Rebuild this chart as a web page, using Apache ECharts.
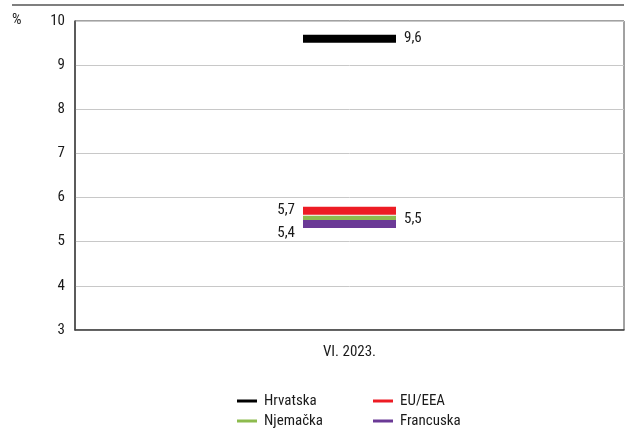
<!DOCTYPE html>
<html>
<head>
<meta charset="utf-8">
<script src="https://cdn.jsdelivr.net/npm/echarts@6/dist/echarts.min.js"></script>
<style>
  html, body { margin: 0; padding: 0; background: #fff; }
  #chart { width: 628px; height: 428px; }
</style>
</head>
<body>
<div id="chart"></div>
<script>
// Stopa nezaposlenosti, VI. 2023.
const categories = ['VI. 2023.'];
const seriesNames = ['Hrvatska', 'EU/EEA', 'Njemačka', 'Francuska'];
const hrvatska = [9.6];
const euEea = [5.7];
const njemacka = [5.5];
const francuska = [5.4];
const yTicks = [3, 4, 5, 6, 7, 8, 9, 10];

const FONT = '"Liberation Sans Narrow", "Roboto Condensed", "Liberation Sans", sans-serif';
const colors = ['#000000', '#ed1c24', '#8dbb4e', '#6b3a96'];
const TEXT = '#1a1a1a';

function fmt(v) { return String(v).replace('.', ','); }

function makeSeries(name, values, color, labelPos, labelOffset) {
  return {
    name: name,
    type: 'scatter',
    symbol: 'rect',
    symbolSize: [93, 8],
    itemStyle: { color: color, opacity: 1 },
    emphasis: { disabled: true },
    data: values.map((v, i) => [categories[i], v]),
    label: {
      show: true,
      position: labelPos,
      distance: 8,
      offset: labelOffset,
      formatter: p => fmt(p.value[1]),
      color: TEXT,
      fontSize: 15,
      fontFamily: FONT
    }
  };
}

// one legend entry per box so the 2x2 arrangement stays fixed
function legendItem(name, left, top) {
  return {
    data: [name],
    left: left, top: top,
    padding: 0,
    icon: 'rect', itemWidth: 20, itemHeight: 3,
    selectedMode: false,
    textStyle: { color: TEXT, fontSize: 15, fontFamily: FONT, lineHeight: 16, padding: [0, 0, 0, 2] }
  };
}

const chart = echarts.init(document.getElementById('chart'), null, { renderer: 'canvas' });
chart.setOption({
  animation: false,
  color: colors,
  textStyle: { fontFamily: FONT },
  grid: {
    left: 75, right: 4, top: 21, bottom: 98,
    show: true, borderColor: '#444', borderWidth: 1, backgroundColor: 'transparent'
  },
  xAxis: {
    type: 'category',
    data: categories,
    axisLine: { show: true, lineStyle: { color: '#444', width: 1.5 } },
    axisTick: { show: false },
    axisLabel: { color: TEXT, fontSize: 15, fontFamily: FONT, margin: 15 }
  },
  yAxis: {
    type: 'value',
    min: yTicks[0],
    max: yTicks[yTicks.length - 1],
    interval: 1,
    axisLine: { show: true, lineStyle: { color: '#444', width: 1.5 } },
    axisTick: { show: false },
    axisLabel: { color: TEXT, fontSize: 15, fontFamily: FONT, margin: 10 },
    splitLine: { show: true, lineStyle: { color: '#c8c8c8', width: 1 } }
  },
  legend: [
    legendItem(seriesNames[0], 237, 393),
    legendItem(seriesNames[1], 373, 393),
    legendItem(seriesNames[2], 237, 413),
    legendItem(seriesNames[3], 373, 413)
  ],
  graphic: [
    {
      type: 'line',
      shape: { x1: 12, y1: 5, x2: 624, y2: 5 },
      style: { stroke: '#555', lineWidth: 1.5 }
    },
    {
      type: 'text',
      left: 12, top: 13,
      style: { text: '%', fill: TEXT, font: '15px ' + FONT }
    }
  ],
  series: [
    makeSeries(seriesNames[0], hrvatska, colors[0], 'right', [0, 0]),
    makeSeries(seriesNames[1], euEea, colors[1], 'left', [0, -1]),
    makeSeries(seriesNames[2], njemacka, colors[2], 'right', [0, 0]),
    makeSeries(seriesNames[3], francuska, colors[3], 'left', [0, 9])
  ]
});
</script>
</body>
</html>
